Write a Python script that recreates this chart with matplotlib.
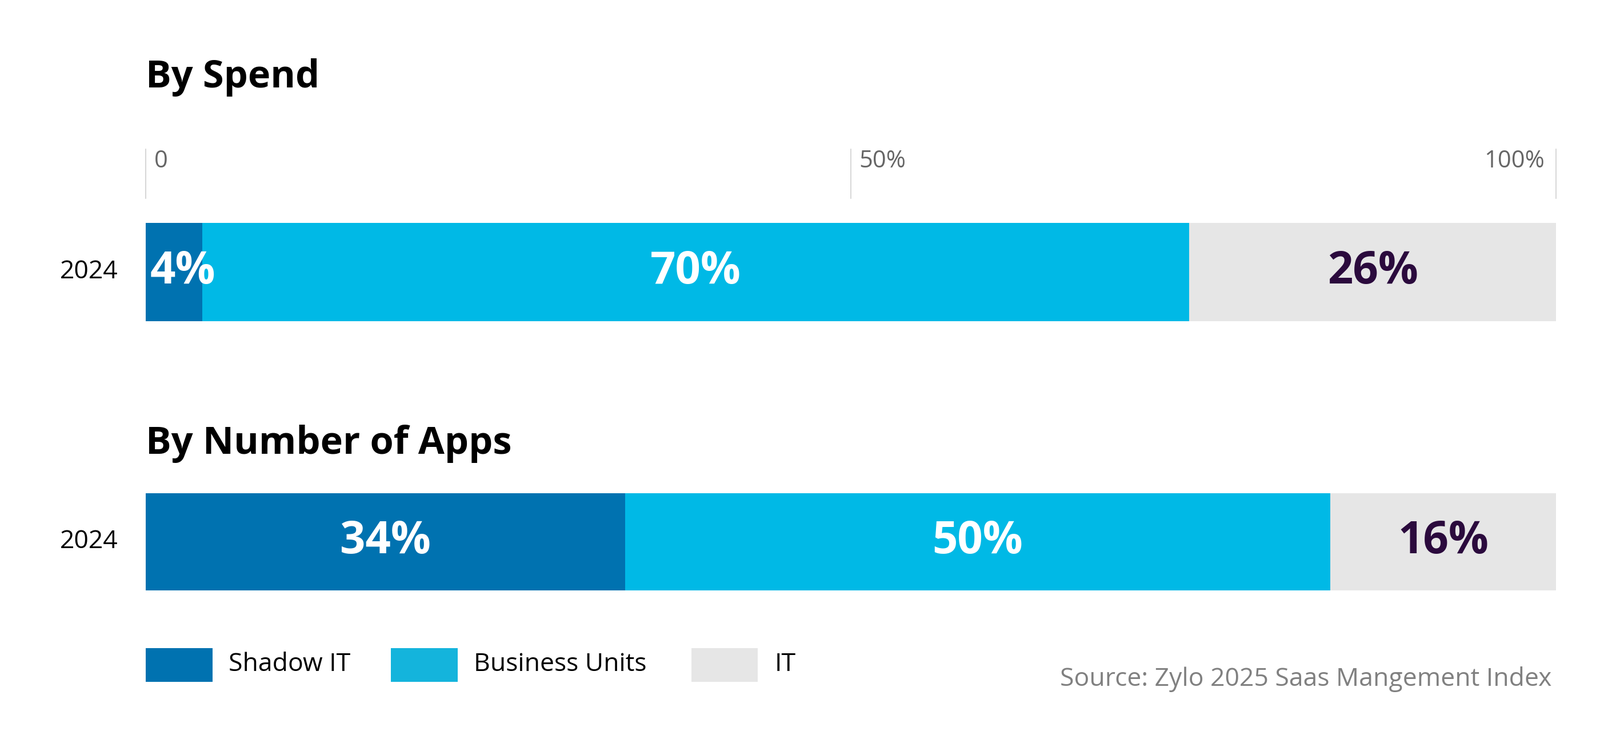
import matplotlib
matplotlib.use("Agg")
import matplotlib.pyplot as plt
from matplotlib.patches import Rectangle

categories = ["Shadow IT", "Business Units", "IT"]
spend = [4, 70, 26]
apps = [34, 50, 16]
year_labels = ["2024", "2024"]
titles = ["By Spend", "By Number of Apps"]
tick_vals = [0, 50, 100]
tick_labels = ["0", "50%", "100%"]
colors = ["#0072B0", "#00B9E6", "#E6E6E6"]
text_colors = ["white", "white", "#2B0A3D"]
legend_colors = ["#0072B0", "#14B4DC", "#E6E6E6"]

plt.rcParams["font.family"] = "Open Sans"
W, H = 1560, 720
fig = plt.figure(figsize=(28, 13), dpi=100)

def fx(x): return x / W
def fy(y): return 1 - y / H

def bar_axes(top, bottom, vals, ylab):
    ax = fig.add_axes([fx(142), fy(bottom), fx(1517) - fx(142), (bottom - top) / H])
    left = 0
    for v, c, tc in zip(vals, colors, text_colors):
        ax.barh(0, v, left=left, height=1, color=c, edgecolor="none")
        cx = left + v / 2 if v > 8 else left + 0.3
        ha = "center" if v > 8 else "left"
        ax.text(cx, 0, f"{v}%", ha=ha, va="center", color=tc, fontsize=56, fontweight="bold")
        left += v
    ax.set_xlim(0, 100)
    ax.set_ylim(-0.5, 0.5)
    ax.axis("off")
    fig.text(fx(115), fy((top + bottom) / 2), ylab, ha="right", va="center", fontsize=32)
    return ax

ax1 = bar_axes(216, 311, spend, year_labels[0])
ax2 = bar_axes(478, 572, apps, year_labels[1])

fig.text(fx(142), fy(75), titles[0], ha="left", va="center", fontsize=48, fontweight="bold")
fig.text(fx(142), fy(430), titles[1], ha="left", va="center", fontsize=48, fontweight="bold")

# top axis ticks
tr = ax1.get_xaxis_transform()
for v, lab in zip(tick_vals, tick_labels):
    ax1.plot([v, v], [1.25, 1.75], transform=tr, color="#D0D0D0", lw=1.2, clip_on=False)
    if v == 100:
        ax1.text(v - 0.8, 1.75, lab, transform=tr, ha="right", va="top", fontsize=30, color="#666666")
    else:
        ax1.text(v + 0.6, 1.75, lab, transform=tr, ha="left", va="top", fontsize=30, color="#666666")

# legend
lx = [142, 381, 674]
for x, c, lab in zip(lx, legend_colors, categories):
    fig.patches.append(Rectangle((fx(x), fy(661)), 65 / W, 33 / H, transform=fig.transFigure,
                                 color=c, ec="none"))
    fig.text(fx(x + 81), fy(644), lab, ha="left", va="center", fontsize=32)

fig.text(fx(1513), fy(658), "Source: Zylo 2025 Saas Mangement Index", ha="right", va="center",
         fontsize=32, color="#808080")

fig.savefig("out.png", dpi=100, facecolor="white")
